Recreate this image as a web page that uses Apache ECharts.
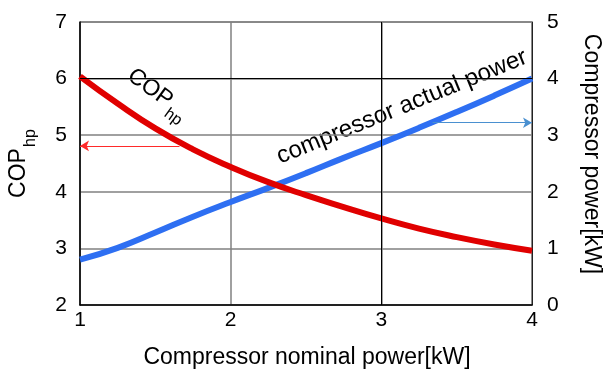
<!DOCTYPE html>
<html>
<head>
<meta charset="utf-8">
<script src="https://cdn.jsdelivr.net/npm/echarts@6/dist/echarts.min.js"></script>
<style>
html,body{margin:0;padding:0;background:#fff;}
#chart{width:605px;height:371px;}
</style>
</head>
<body>
<div id="chart"></div>
<script>
// Data
var nominalPower = [1.0, 1.25, 1.5, 1.75, 2.0, 2.25, 2.5, 2.75, 3.0, 3.25, 3.5, 3.75, 4.0];
var copHp        = [6.04, 5.56, 5.12, 4.75, 4.44, 4.17, 3.94, 3.73, 3.53, 3.35, 3.20, 3.07, 2.96];
var actualPower  = [0.80, 1.01, 1.28, 1.56, 1.82, 2.07, 2.33, 2.60, 2.86, 3.13, 3.41, 3.70, 4.00];
var xTicks = [1, 2, 3, 4];
var copTicks = [2, 3, 4, 5, 6, 7];
var powerTicks = [0, 1, 2, 3, 4, 5];
var copArrow = {from: [1.66, 4.81], to: [1.0, 4.81]};
var powerArrow = {from: [3.34, 3.22], to: [4.0, 3.22]};

var FONT = "'Liberation Sans', Arial, sans-serif";
function pairs(xs, ys) { return xs.map(function (x, i) { return [x, ys[i]]; }); }

var chart = echarts.init(document.getElementById('chart'), null, {renderer: 'canvas'});
var option = {
  animation: false,
  backgroundColor: '#fff',
  grid: {left: 80, right: 73, top: 22, bottom: 66, show: true, borderColor: '#444', borderWidth: 1, backgroundColor: 'transparent'},
  xAxis: {
    type: 'value', min: xTicks[0], max: xTicks[xTicks.length - 1], interval: 1,
    axisLine: {show: true, onZero: false, lineStyle: {color: '#000', width: 1.5}},
    axisTick: {show: false},
    axisLabel: {fontSize: 21, color: '#000', fontFamily: FONT, margin: 5},
    splitLine: {show: true, lineStyle: {color: '#808080', width: 1.5}}
  },
  yAxis: [{
    type: 'value', min: copTicks[0], max: copTicks[copTicks.length - 1], interval: 1, position: 'left',
    axisLine: {show: true, onZero: false, lineStyle: {color: '#000', width: 1.5}},
    axisTick: {show: false},
    axisLabel: {fontSize: 21, color: '#000', fontFamily: FONT, margin: 13},
    splitLine: {show: true, lineStyle: {color: '#808080', width: 1.5}}
  }, {
    type: 'value', min: powerTicks[0], max: powerTicks[powerTicks.length - 1], interval: 1, position: 'right',
    axisLine: {show: true, onZero: false, lineStyle: {color: '#222', width: 1}},
    axisTick: {show: false},
    axisLabel: {fontSize: 21, color: '#000', fontFamily: FONT, margin: 15},
    splitLine: {show: false}
  }],
  series: [{
    name: 'compressor actual power', type: 'line', yAxisIndex: 1, smooth: true, showSymbol: false,
    data: pairs(nominalPower, actualPower),
    lineStyle: {color: '#2e6ff2', width: 6},
    markLine: {
      silent: true, symbol: ['none', 'arrow'], symbolSize: [8, 9],
      label: {show: false},
      lineStyle: {color: '#4a90d0', width: 1, type: 'solid'},
      data: [[{coord: powerArrow.from}, {coord: powerArrow.to}]]
    }
  }, {
    name: 'COP', type: 'line', yAxisIndex: 0, smooth: true, showSymbol: false,
    data: pairs(nominalPower, copHp),
    lineStyle: {color: '#e00000', width: 6},
    markLine: {
      silent: true, symbol: ['none', 'none'], label: {show: false},
      lineStyle: {color: '#000', width: 1, type: 'solid'},
      data: [{yAxis: 6}, {xAxis: 3}]
    }
  }, {
    name: 'arrow', type: 'line', yAxisIndex: 0, data: [], showSymbol: false,
    markLine: {
      silent: true, symbol: ['none', 'arrow'], symbolSize: [8, 9],
      label: {show: false},
      lineStyle: {color: '#ff2a2a', width: 1, type: 'solid'},
      data: [[{coord: copArrow.from}, {coord: copArrow.to}]]
    }
  }],
  graphic: [
    // left axis name COP_hp
    {type: 'group', x: 19, y: 173, rotation: Math.PI / 2, children: [
      {type: 'text', x: 0, y: 0, style: {text: 'COP', font: '23px ' + FONT, fill: '#000', textAlign: 'center', textVerticalAlign: 'middle'}},
      {type: 'text', x: 26, y: 12, style: {text: 'hp', font: '16px ' + FONT, fill: '#000', textAlign: 'left', textVerticalAlign: 'middle'}}
    ]},
    // right axis name
    {type: 'text', x: 591, y: 154, rotation: -Math.PI / 2, style: {text: 'Compressor power[kW]', font: '23px ' + FONT, fill: '#000', textAlign: 'center', textVerticalAlign: 'middle'}},
    // x axis name
    {type: 'text', x: 307, y: 358, style: {text: 'Compressor nominal power[kW]', font: '23px ' + FONT, fill: '#000', textAlign: 'center', textVerticalAlign: 'middle'}},
    // annotation COP_hp
    {type: 'group', x: 150, y: 88, rotation: -0.63, children: [
      {type: 'text', x: 0, y: 0, style: {text: 'COP', font: '23px ' + FONT, fill: '#000', textAlign: 'center', textVerticalAlign: 'middle'}},
      {type: 'text', x: 27, y: 10, style: {text: 'hp', font: '16px ' + FONT, fill: '#000', textAlign: 'left', textVerticalAlign: 'middle'}}
    ]},
    // annotation compressor actual power
    {type: 'text', x: 402, y: 107, rotation: 0.387, style: {text: 'compressor actual power', font: '24px ' + FONT, fill: '#000', textAlign: 'center', textVerticalAlign: 'middle'}}
  ]
};
chart.setOption(option);
</script>
</body>
</html>
